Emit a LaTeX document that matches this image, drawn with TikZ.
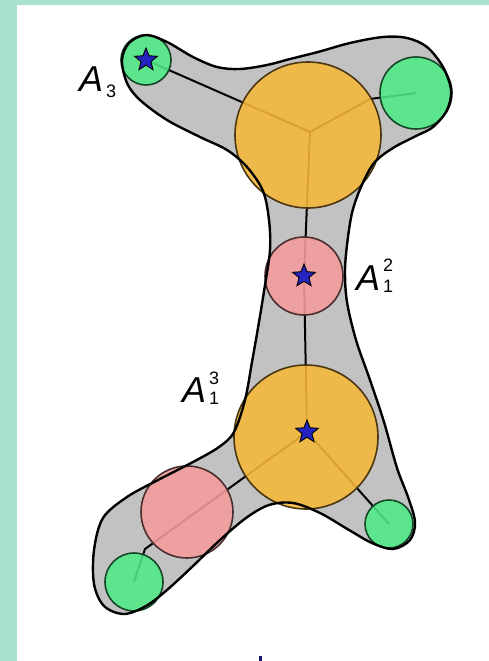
\documentclass[tikz,border=0pt]{standalone}
\usepackage{fontspec}
\setmainfont{Liberation Sans}
\usetikzlibrary{shapes.geometric,backgrounds}
\definecolor{strip}{HTML}{A8E2CC}
\definecolor{blobgray}{HTML}{C2C2C2}
\definecolor{orng}{HTML}{F6B83A}
\definecolor{grn}{HTML}{4EEA86}
\definecolor{pnk}{HTML}{F59C9C}
\definecolor{starblue}{HTML}{2424C0}
\begin{document}
\begin{tikzpicture}[x=1pt,y=-1pt,
  disc/.style={circle, inner sep=0pt, line width=1.6pt, draw=#1!30!black, fill=#1, fill opacity=0.88},
  starmark/.style={star, star points=5, star point ratio=2.3, minimum size=24pt, inner sep=0pt, fill=starblue, draw=black, line width=0.9pt},
  link/.style={line width=2pt, black},
  bigA/.style={anchor=base west, inner sep=0pt, outer sep=0pt, font=\fontsize{36}{36}\selectfont\itshape},
  digit/.style={anchor=base west, inner sep=0pt, outer sep=0pt, font=\fontsize{18}{18}\selectfont},
  blobpath/.style={smooth cycle, tension=0.55}]
\useasboundingbox (0,0) rectangle (489,661);
\def\blobpts{(146,35) (167,42) (193,57) (217,67) (240,69) (267,65) (290,59) (318,52) (350,43) (383,37) (407,38) (427,47) (443,67) (451,90) (447,110) (433,127) (416,136) (393,148) (374,163) (361,187) (352,213) (347,245) (345,272) (347,302) (356,340) (370,380) (384,422) (397,468) (408,497) (415,522) (410,540) (393,549) (372,543) (349,530) (320,513) (293,503) (269,505) (246,518) (220,540) (193,566) (167,590) (146,606) (124,614) (104,606) (94,584) (94,550) (103,518) (127,497) (158,480) (193,462) (219,447) (234,432) (245,400) (252,362) (259,322) (265,285) (270,250) (269,220) (263,191) (247,167) (227,150) (200,137) (167,120) (140,100) (127,83) (122,60) (129,43)}
% circles
\node[disc=grn, minimum size=50pt] (G1) at (146,60) {};
\node[disc=grn, minimum size=72pt] (G2) at (416,93) {};
\node[disc=orng, minimum size=146pt] (O1) at (308,135) {};
\node[disc=pnk, minimum size=78pt] (P1) at (304,276) {};
\node[disc=orng, minimum size=144pt] (O2) at (306,437) {};
\node[disc=pnk, minimum size=92pt] (P2) at (187,512) {};
\node[disc=grn, minimum size=58pt] (G3) at (134,582) {};
\node[disc=grn, minimum size=48pt] (G4) at (389,524) {};
\coordinate (J) at (310,132);
\coordinate (b1) at (370,99);
\coordinate (b2) at (145,549);
\coordinate (S3pos) at (307,432);
\begin{pgfonlayer}{background}
\fill[white] (0,0) rectangle (489,661);
\fill[strip] (0,0) rectangle (17,661);
\fill[strip] (0,0) rectangle (489,5);
\fill[blobgray] plot[blobpath] coordinates {\blobpts};
\draw[link] (G1.center) -- (J) -- (b1) -- (G2.center);
\draw[link] (J) -- (P1.center) -- (S3pos);
\draw[link] (S3pos) -- (b2) -- (G3.center);
\draw[link] (S3pos) -- (G4.center);
\end{pgfonlayer}
% blob outline on top
\draw[line width=2.4pt, black] plot[blobpath] coordinates {\blobpts};
% stars
\node[starmark] (S1) at (G1) {};
\node[starmark] (S2) at (P1) {};
\node[starmark] (S3) at (S3pos) {};
% labels
\node[bigA] (L1) at (79,92) {A};
\node[digit] (L1s) at (106,97) {3};
\node[bigA] (L2) at (356,290) {A};
\node[digit] (L2p) at (383,271) {2};
\node[digit] (L2s) at (383,292) {1};
\node[bigA] (L3) at (182,402) {A};
\node[digit] (L3p) at (209,384) {3};
\node[digit] (L3s) at (209,404) {1};
\fill[starblue!60!black] (259,656) rectangle (262,661);
\end{tikzpicture}
\end{document}
